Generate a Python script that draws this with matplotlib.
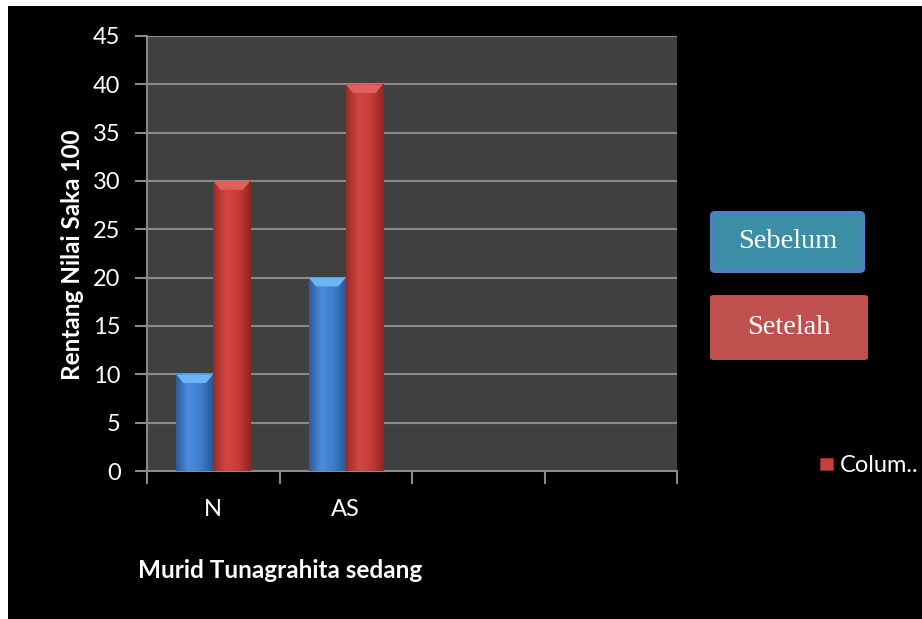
import numpy as np
import matplotlib.pyplot as plt
from matplotlib.patches import Rectangle, FancyBboxPatch, Polygon
from matplotlib.colors import LinearSegmentedColormap

# data
kategori = ['N', 'AS', '', '']
sebelum = [10, 20]
setelah = [30, 40]
yticks = np.arange(0, 46, 5)

plt.rcParams['font.family'] = ['Lato', 'DejaVu Sans']

fig = plt.figure(figsize=(9.22, 6.19), dpi=100, facecolor='white')
# black slide background
fig.patches.append(Rectangle((8 / 922, 0), 1, (619 - 6) / 619, transform=fig.transFigure,
                             facecolor='black', edgecolor='none', zorder=-10))

ax = fig.add_axes([147 / 922, (619 - 471) / 619, 530 / 922, 435 / 619])
ax.set_facecolor('#404040')
ax.set_xlim(0, len(kategori))
ax.set_ylim(0, 45)

w = 0.28
x = np.arange(len(sebelum)) + 0.5

biru = LinearSegmentedColormap.from_list('biru', ['#2d5d9c', '#4b8fdc', '#3c7ccc', '#2a568f'])
merah = LinearSegmentedColormap.from_list('merah', ['#9a2a27', '#d24643', '#c83c39', '#8f2724'])
grad = np.linspace(0, 1, 64).reshape(1, -1)

def batang(xs, vals, cmap, tutup):
    bars = ax.bar(xs, vals, width=w, color='none', edgecolor='none', zorder=3)
    for b in bars:
        x0, h = b.get_x(), b.get_height()
        im = ax.imshow(grad, cmap=cmap, aspect='auto', extent=(x0, x0 + w, 0, h), zorder=3)
        im.set_clip_path(b)
        # bevelled top
        d = 0.9
        ax.add_patch(Polygon([(x0, h), (x0 + w, h), (x0 + w * 0.8, h - d), (x0 + w * 0.2, h - d)],
                             closed=True, facecolor=tutup, edgecolor='none', zorder=4))

batang(x - w / 2, sebelum, biru, '#6fb4f5')
batang(x + w / 2, setelah, merah, '#e0605c')

ax.set_yticks(yticks)
ax.set_xticks(np.arange(len(kategori) + 1))
ax.set_xticklabels([])
ax.yaxis.grid(True, color='#8a8a8a', linewidth=1.5)
ax.set_axisbelow(True)
for s in ['top', 'right']:
    ax.spines[s].set_visible(False)
for s in ['left', 'bottom']:
    ax.spines[s].set_color('#8a8a8a')
    ax.spines[s].set_linewidth(1.5)
ax.tick_params(axis='y', colors='white', labelsize=17, length=9, width=1.5, color='#8a8a8a', pad=10)
ax.tick_params(axis='x', length=9, width=1.5, color='#8a8a8a')
for i, k in enumerate(kategori):
    ax.text(i + 0.5, -4.0, k, ha='center', va='center', color='white', fontsize=17)

fig.text(72 / 922, 1 - 255 / 619, 'Rentang Nilai Saka 100', rotation=90, ha='center', va='center',
         color='white', fontsize=17.5, fontweight='bold')
fig.text(138 / 922, 1 - 571 / 619, 'Murid Tunagrahita sedang', ha='left', va='center',
         color='white', fontsize=17.5, fontweight='bold')

# text boxes at the right
fig.patches.append(FancyBboxPatch((712 / 922, 1 - 271 / 619), 151 / 922, 58 / 619,
                                  boxstyle='round,pad=0,rounding_size=0.004', transform=fig.transFigure,
                                  facecolor='#3b8ea6', edgecolor='#4f81bd', linewidth=3))
fig.text(788 / 922, 1 - 242 / 619, 'Sebelum', ha='center', va='center', color='white',
         fontsize=20.5, family='Liberation Serif')
fig.patches.append(FancyBboxPatch((710 / 922, 1 - 360 / 619), 158 / 922, 65 / 619,
                                  boxstyle='round,pad=0,rounding_size=0.004', transform=fig.transFigure,
                                  facecolor='#c0504d', edgecolor='none'))
fig.text(789 / 922, 1 - 327 / 619, 'Setelah', ha='center', va='center', color='white',
         fontsize=20.5, family='Liberation Serif')

# legend entry
fig.patches.append(Rectangle((820 / 922, 1 - 470 / 619), 13 / 922, 12 / 619, transform=fig.transFigure,
                             facecolor='#c8403c', edgecolor='#8f2724', linewidth=0.8))
fig.text(840 / 922, 1 - 465 / 619, 'Colum..', ha='left', va='center', color='white', fontsize=17)

fig.savefig('out.png', dpi=100, facecolor=fig.get_facecolor())
